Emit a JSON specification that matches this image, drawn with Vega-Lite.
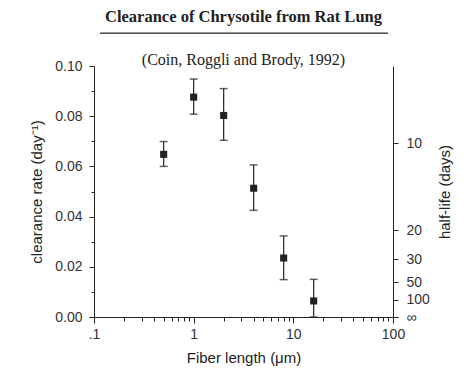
{
  "$schema": "https://vega.github.io/schema/vega-lite/v6.json",
  "width": 299,
  "height": 251,
  "autosize": {"type": "none"},
  "padding": {"left": 94, "top": 66, "right": 75, "bottom": 59},
  "background": "white",
  "title": {
    "text": "Clearance of Chrysotile from Rat Lung",
    "subtitle": "(Coin, Roggli and Brody, 1992)",
    "font": "Liberation Serif",
    "fontSize": 16.5,
    "fontWeight": "bold",
    "color": "#222",
    "subtitleFont": "Liberation Serif",
    "subtitleFontSize": 16,
    "subtitleColor": "#222",
    "subtitlePadding": 26,
    "anchor": "middle",
    "offset": -35
  },
  "config": {
    "view": {"stroke": null},
    "axis": {
      "labelFont": "Liberation Sans",
      "titleFont": "Liberation Sans",
      "labelFontSize": 14,
      "titleFontSize": 15,
      "titleFontWeight": "normal",
      "labelColor": "#333",
      "titleColor": "#222",
      "domainColor": "#222",
      "tickColor": "#222",
      "grid": false,
      "labelOverlap": false,
      "labelFlush": false
    }
  },
  "data": {
    "values": [
      {"len": 0.5, "rate": 0.0648, "lo": 0.060, "hi": 0.0699},
      {"len": 1, "rate": 0.0876, "lo": 0.0808, "hi": 0.0948},
      {"len": 2, "rate": 0.0803, "lo": 0.0704, "hi": 0.0910},
      {"len": 4, "rate": 0.0513, "lo": 0.0425, "hi": 0.0606},
      {"len": 8, "rate": 0.0235, "lo": 0.0149, "hi": 0.0323},
      {"len": 16, "rate": 0.0064, "lo": 0.0, "hi": 0.0150}
    ]
  },
  "layer": [
    {
      "mark": {"type": "rule", "color": "#222", "strokeWidth": 1.2},
      "encoding": {
        "x": {
          "field": "len", "type": "quantitative",
          "scale": {"type": "log", "domain": [0.1, 100], "nice": false},
          "axis": {
            "title": "Fiber length (μm)",
            "values": [0.1,0.2,0.3,0.4,0.5,0.6,0.7,0.8,0.9,1,2,3,4,5,6,7,8,9,10,20,30,40,50,60,70,80,90,100],
            "labelExpr": "datum.value == 0.1 ? '.1' : (datum.value == 1 ? '1' : (datum.value == 10 ? '10' : (datum.value == 100 ? '100' : '')))",
            "tickSize": {"condition": {"test": "datum.value == 0.1 || datum.value == 1 || datum.value == 10 || datum.value == 100", "value": 6}, "value": 4},
            "labelPadding": 4,
            "titlePadding": 9
          }
        },
        "y": {
          "field": "lo", "type": "quantitative",
          "scale": {"domain": [0, 0.1], "nice": false, "zero": false},
          "axis": {
            "orient": "left",
            "title": "clearance rate (day⁻¹)",
            "values": [0,0.01,0.02,0.03,0.04,0.05,0.06,0.07,0.08,0.09,0.1],
            "labelExpr": "round(datum.value*100) % 2 == 0 ? format(datum.value, '.2f') : ''",
            "tickSize": {"condition": {"test": "round(datum.value*100) % 2 == 0", "value": 5}, "value": 3},
            "labelPadding": 7,
            "titlePadding": 10
          }
        },
        "y2": {"field": "hi"}
      }
    },
    {
      "mark": {"type": "tick", "orient": "horizontal", "color": "#222", "size": 8, "thickness": 1.5},
      "encoding": {
        "x": {"field": "len", "type": "quantitative"},
        "y": {"field": "lo", "type": "quantitative", "axis": null}
      }
    },
    {
      "mark": {"type": "tick", "orient": "horizontal", "color": "#222", "size": 8, "thickness": 1.5},
      "encoding": {
        "x": {"field": "len", "type": "quantitative"},
        "y": {"field": "hi", "type": "quantitative", "axis": null}
      }
    },
    {
      "mark": {"type": "rule", "color": "#555", "strokeWidth": 1, "clip": false},
      "encoding": {
        "x": {"datum": 0.115, "type": "quantitative"},
        "x2": {"datum": 89},
        "y": {"datum": 0.113, "type": "quantitative", "axis": null}
      }
    },
    {
      "mark": {"type": "square", "color": "#222", "filled": true, "opacity": 1, "size": 50},
      "encoding": {
        "x": {"field": "len", "type": "quantitative"},
        "y": {
          "field": "rate", "type": "quantitative",
          "axis": {
            "orient": "right",
            "title": "half-life (days)",
            "titleAngle": 270,
            "values": [0, 0.00693147, 0.01386294, 0.0231049, 0.03465736, 0.06931472],
            "labelExpr": "datum.value == 0 ? '∞' : format(0.693147 / datum.value, '.0f')",
            "tickSize": 5,
            "labelPadding": 8,
            "titlePadding": 23
          }
        }
      }
    }
  ],
  "resolve": {"axis": {"y": "independent"}}
}
